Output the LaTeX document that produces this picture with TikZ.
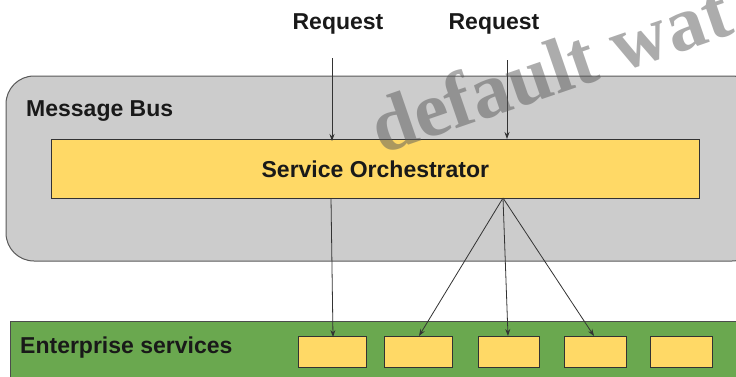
\documentclass[tikz,border=0pt]{standalone}
\usepackage{fontspec}
\setmainfont{Liberation Sans}
\newfontfamily\wmfont{Liberation Serif}
\usetikzlibrary{arrows.meta}
\definecolor{busgray}{HTML}{CCCCCC}
\definecolor{boxyellow}{HTML}{FFD966}
\definecolor{entgreen}{HTML}{6AA84F}
\definecolor{edgegray}{HTML}{595959}
\tikzset{
  px/.style={x=1pt,y=-1pt},
  busbox/.style={draw=edgegray,fill=busgray,line width=1pt,rounded corners=28pt},
  entbox/.style={draw=black!70,fill=entgreen,line width=.8pt},
  svc/.style={draw=black!80,fill=boxyellow,line width=.8pt,anchor=north west,inner sep=0pt},
  lbl/.style={font=\bfseries\fontsize{23pt}{27pt}\selectfont,text=black!90,inner sep=0pt},
  link/.style={draw=black!80,line width=.8pt,-{Stealth[length=7pt,width=5pt]}},
  wm/.style={font=\wmfont\bfseries\fontsize{78pt}{78pt}\selectfont,text=black!65,opacity=.5,rotate=19,anchor=base west,inner sep=0pt}
}
\begin{document}
\begin{tikzpicture}[px]
\useasboundingbox (0,0) rectangle (736,376);
\clip (0,0) rectangle (736,376);
\draw[busbox] (6,76) rectangle (760,261);
\node[svc,minimum width=648pt,minimum height=59pt] (orch) at (51,139) {};
\node[lbl] at (orch.center) {Service Orchestrator};
\node[lbl,anchor=west] (bus) at (26,111) {Message Bus};
\draw[entbox] (10,321) rectangle (760,390);
\node[lbl,anchor=west] (ent) at (20,348) {Enterprise services};
\node[svc,minimum width=68pt,minimum height=31pt] (s1) at (298,336) {};
\node[svc,minimum width=68pt,minimum height=31pt] (s2) at (384,336) {};
\node[svc,minimum width=61pt,minimum height=31pt] (s3) at (478,336) {};
\node[svc,minimum width=62pt,minimum height=31pt] (s4) at (564,336) {};
\node[svc,minimum width=62pt,minimum height=31pt] (s5) at (650,336) {};
\node[lbl] (r1) at (338,24) {Request};
\node[lbl] (r2) at (494,24) {Request};
\coordinate (a1) at (332,58);
\coordinate (a2) at (507,60);
\coordinate (in1) at (332,141);
\coordinate (in2) at (507,139);
\coordinate (o1) at (331,198);
\coordinate (o2) at (503,198);
\coordinate (t1) at (333,337);
\coordinate (t2) at (419,336);
\coordinate (t3) at (508,336);
\coordinate (t4) at (594,336);
\draw[link] (a1) -- (in1);
\draw[link] (a2) -- (in2);
\draw[link] (o1) -- (t1);
\draw[link] (o2) -- (t2);
\draw[link] (o2) -- (t3);
\draw[link] (o2) -- (t4);
\node[wm] (mark) at (381,155) {default wat};
\end{tikzpicture}
\end{document}
